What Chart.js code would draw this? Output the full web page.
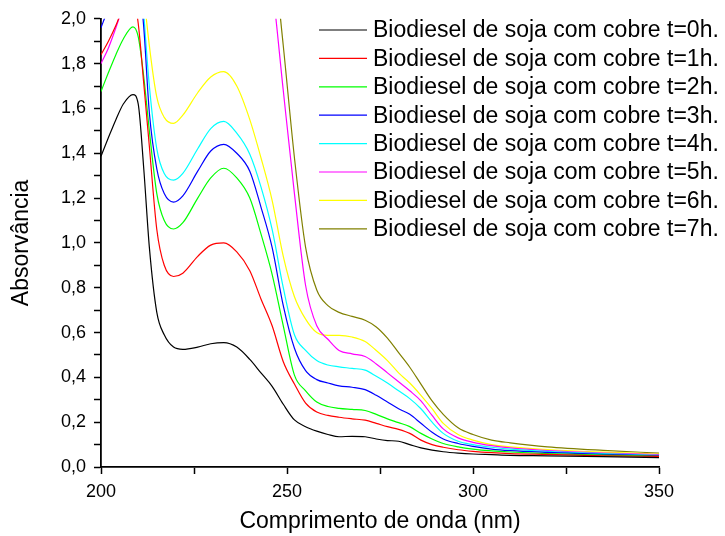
<!DOCTYPE html>
<html>
<head>
<meta charset="utf-8">
<script src="https://cdn.jsdelivr.net/npm/chart.js@4.4.1/dist/chart.umd.min.js"></script>
<style>
  body { margin: 0; background: #fff; }
  canvas { display: block; }
</style>
</head>
<body>
<canvas id="uvGraph" width="725" height="536"></canvas>
<script>
// comprimento de onda (nm)
let wavelength = [200, 202, 204, 206, 208.6, 210, 211.5, 213, 215, 217, 219.5, 222, 226, 229.5, 233, 236.5, 240, 243, 246, 249,
  252, 255, 258, 261, 264, 267.5, 271, 274, 277, 280, 283, 286, 289, 292, 296, 300, 305, 310, 320, 335, 350];

// absorvancia, uma lista por tempo
let abs0 = [1.387, 1.47, 1.55, 1.62, 1.662, 1.62, 1.33, 0.98, 0.69, 0.59, 0.535, 0.525, 0.535, 0.55, 0.555, 0.535, 0.48, 0.42, 0.36, 0.28,
  0.21, 0.18, 0.16, 0.145, 0.135, 0.137, 0.135, 0.125, 0.118, 0.115, 0.10, 0.085, 0.075, 0.068, 0.062, 0.058, 0.055, 0.052, 0.05, 0.046, 0.042];
let abs1 = [1.84, 1.9, 1.97, 2.05, 2.1, 1.98, 1.71, 1.43, 1.06, 0.90, 0.85, 0.865, 0.94, 0.99, 1.0, 0.96, 0.876, 0.75, 0.63, 0.47,
  0.37, 0.285, 0.245, 0.23, 0.222, 0.215, 0.209, 0.195, 0.18, 0.168, 0.15, 0.12, 0.10, 0.088, 0.077, 0.07, 0.064, 0.06, 0.056, 0.05, 0.047];
let abs2 = [1.676, 1.76, 1.84, 1.91, 1.964, 1.92, 1.74, 1.50, 1.22, 1.10, 1.062, 1.09, 1.20, 1.29, 1.333, 1.29, 1.2, 1.04, 0.86, 0.63,
  0.41, 0.34, 0.29, 0.27, 0.262, 0.257, 0.252, 0.235, 0.215, 0.198, 0.18, 0.15, 0.125, 0.105, 0.09, 0.08, 0.072, 0.067, 0.06, 0.053, 0.048];
let abs3 = [1.96, 2.05, 2.15, 2.25, 2.3, 2.2, 1.96, 1.58, 1.33, 1.22, 1.182, 1.21, 1.32, 1.41, 1.44, 1.40, 1.32, 1.16, 0.98, 0.72,
  0.53, 0.43, 0.39, 0.375, 0.362, 0.356, 0.345, 0.32, 0.29, 0.26, 0.235, 0.195, 0.155, 0.125, 0.105, 0.092, 0.08, 0.073, 0.065, 0.056, 0.05];
let abs4 = [2.4, 2.5, 2.6, 2.65, 2.6, 2.35, 2.02, 1.70, 1.42, 1.31, 1.28, 1.31, 1.42, 1.51, 1.542, 1.49, 1.396, 1.25, 1.06, 0.80,
  0.59, 0.52, 0.475, 0.455, 0.447, 0.44, 0.432, 0.405, 0.375, 0.34, 0.305, 0.26, 0.2, 0.15, 0.115, 0.1, 0.088, 0.08, 0.07, 0.06, 0.052];
let abs5 = [1.80, 1.87, 1.96, 2.06, 2.2, 2.3, 2.4, 2.5, 2.6, 2.65, 2.7, 2.75, 2.8, 2.85, 2.9, 2.85, 2.7, 2.45, 2.15, 1.68,
  1.22, 0.81, 0.63, 0.57, 0.52, 0.505, 0.493, 0.46, 0.42, 0.38, 0.34, 0.295, 0.23, 0.17, 0.13, 0.11, 0.095, 0.085, 0.073, 0.062, 0.055];
let abs6 = [2.6, 2.7, 2.8, 2.85, 2.8, 2.45, 2.12, 1.88, 1.65, 1.56, 1.533, 1.57, 1.67, 1.74, 1.764, 1.70, 1.55, 1.38, 1.19, 0.94,
  0.76, 0.66, 0.60, 0.587, 0.587, 0.58, 0.56, 0.52, 0.475, 0.42, 0.375, 0.32, 0.26, 0.195, 0.145, 0.12, 0.1, 0.09, 0.078, 0.066, 0.058];
let abs7 = [2.8, 2.9, 3.0, 3.05, 3.1, 3.1, 3.1, 3.1, 3.1, 3.1, 3.1, 3.1, 3.1, 3.1, 3.1, 3.05, 2.9, 2.7, 2.35, 1.88,
  1.38, 0.98, 0.79, 0.72, 0.69, 0.672, 0.655, 0.625, 0.575, 0.51, 0.445, 0.37, 0.295, 0.235, 0.175, 0.145, 0.12, 0.108, 0.09, 0.074, 0.062];

let series = [abs0, abs1, abs2, abs3, abs4, abs5, abs6, abs7];
let labels = ['Biodiesel de soja com cobre t=0h.', 'Biodiesel de soja com cobre t=1h.', 'Biodiesel de soja com cobre t=2h.',
  'Biodiesel de soja com cobre t=3h.', 'Biodiesel de soja com cobre t=4h.', 'Biodiesel de soja com cobre t=5h.',
  'Biodiesel de soja com cobre t=6h.', 'Biodiesel de soja com cobre t=7h.'];
let colors = ['#000000', '#ff0000', '#00ff00', '#0000ff', '#00ffff', '#ff00ff', '#ffff00', '#808000'];

let fontFamily = '"Liberation Sans", Arial, sans-serif';

// legenda dentro do grafico, como no Origin
let insideLegend = {
  id: 'insideLegend',
  afterDraw(chart) {
    let ctx = chart.ctx;
    ctx.save();
    ctx.font = '23px ' + fontFamily;
    ctx.textBaseline = 'middle';
    chart.data.datasets.forEach((ds, i) => {
      let y = 30 + i * 28.4;
      ctx.strokeStyle = ds.borderColor;
      ctx.lineWidth = 1.2;
      ctx.beginPath();
      ctx.moveTo(319, y);
      ctx.lineTo(367, y);
      ctx.stroke();
      ctx.fillStyle = '#000';
      ctx.fillText(ds.label, 373, y + 1);
    });
    ctx.restore();
  }
};

let myGraph = document.getElementById('uvGraph').getContext('2d');

let graph = new Chart(myGraph, {
  type: 'line',
  data: {
    datasets: series.map((ys, i) => ({
      label: labels[i],
      data: wavelength.map((x, j) => ({ x: x, y: ys[j] })),
      borderColor: colors[i],
      borderWidth: 1.2,
      pointRadius: 0,
      fill: false,
      cubicInterpolationMode: 'monotone'
    }))
  },
  options: {
    responsive: false,
    animation: false,
    layout: { padding: { top: 17, right: 66, left: 0, bottom: 0 } },
    plugins: {
      legend: { display: false },
      tooltip: { enabled: false }
    },
    scales: {
      x: {
        type: 'linear',
        min: 200,
        max: 350,
        afterFit: (scale) => { scale.height = 69; },
        ticks: {
          stepSize: 25,
          autoSkip: false,
          maxRotation: 0,
          padding: 7,
          color: '#000',
          font: { family: fontFamily, size: 18 },
          callback: (v) => (v % 50 === 0 ? v : '')
        },
        grid: { drawOnChartArea: false, drawTicks: true, tickLength: 7, color: '#000', tickWidth: 1.5 },
        border: { color: '#000', width: 1.8 },
        title: {
          display: true,
          text: 'Comprimento de onda (nm)',
          color: '#000',
          font: { family: fontFamily, size: 23 },
          padding: { top: 0, bottom: 1 }
        }
      },
      y: {
        min: 0,
        max: 2,
        afterFit: (scale) => { scale.width = 101; },
        ticks: {
          stepSize: 0.1,
          autoSkip: false,
          padding: 8,
          color: '#000',
          font: { family: fontFamily, size: 18 },
          callback: (v) => (Math.round(v * 10) % 2 === 0 ? v.toFixed(1).replace('.', ',') : '')
        },
        grid: { drawOnChartArea: false, drawTicks: true, tickLength: 7, color: '#000', tickWidth: 1.5 },
        border: { color: '#000', width: 1.8 },
        title: {
          display: true,
          text: 'Absorvância',
          color: '#000',
          font: { family: fontFamily, size: 23 },
          padding: { top: 8, bottom: 0 }
        }
      }
    }
  },
  plugins: [insideLegend]
});
</script>
</body>
</html>
